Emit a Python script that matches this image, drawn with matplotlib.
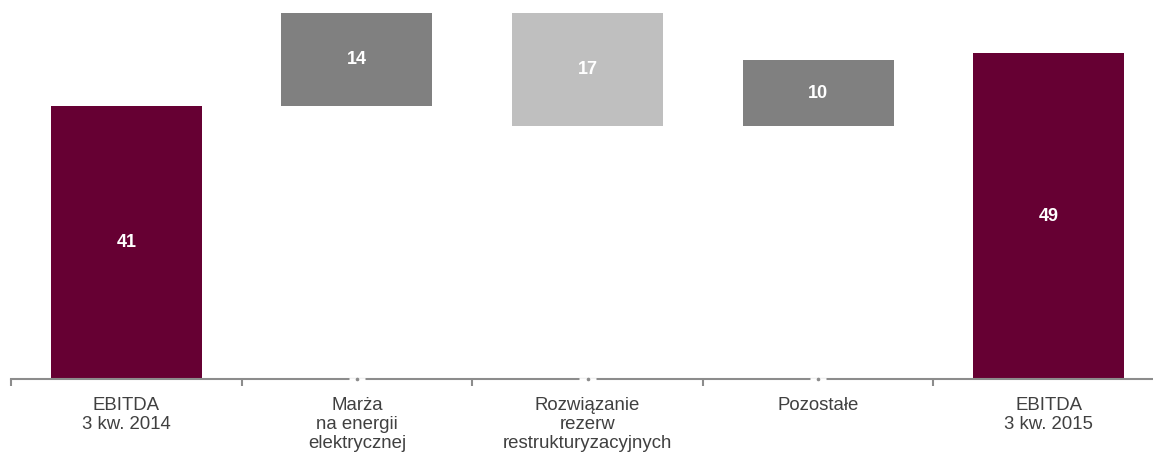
import numpy as np
import matplotlib
matplotlib.use("Agg")
import matplotlib.pyplot as plt

plt.rcParams['font.family'] = ['Liberation Sans', 'DejaVu Sans']

# mostek EBITDA (mln zł)
categories = ["EBITDA\n3 kw. 2014",
              "Marża\nna energii\nelektrycznej",
              "Rozwiązanie\nrezerw\nrestrukturyzacyjnych",
              "Pozostałe",
              "EBITDA\n3 kw. 2015"]
values = [41, 14, -17, 10, 49]
is_total = [True, False, False, False, True]

MAROON = '#660033'
DARK_GREY = '#808080'
LIGHT_GREY = '#bfbfbf'
AXIS_GREY = '#8c8c8c'
TEXT_GREY = '#404040'

fig = plt.figure(figsize=(11.53, 4.53), dpi=100)
ax = fig.add_axes([11 / 1153, 74 / 453, 1142 / 1153, 379 / 453])

x = np.arange(len(categories))
bottoms, heights, colors = [], [], []
running = 0
for v, tot in zip(values, is_total):
    if tot:
        bottoms.append(0)
        heights.append(v)
        colors.append(MAROON)
        running = v
    else:
        if v >= 0:
            bottoms.append(running)
            colors.append(DARK_GREY)
        else:
            bottoms.append(running + v)
            colors.append(LIGHT_GREY)
        heights.append(abs(v))
        running += v

bars = ax.bar(x, heights, bottom=bottoms, width=0.655, color=colors, linewidth=0)

for b, v in zip(bars, values):
    ax.text(b.get_x() + b.get_width() / 2, b.get_y() + b.get_height() / 2,
            f"{abs(v)}", ha='center', va='center', color='white',
            fontsize=13, fontweight='bold')

ax.set_xlim(-0.5, -0.5 + 1142 / 230.6)
ax.set_ylim(0, 57.0)

for s in ['top', 'right', 'left']:
    ax.spines[s].set_visible(False)
ax.spines['bottom'].set_color(AXIS_GREY)
ax.spines['bottom'].set_linewidth(1.5)
ax.set_yticks([])

ax.set_xticks(x)
ax.set_xticklabels(categories, fontsize=13.4, color=TEXT_GREY, linespacing=1.17)
ax.tick_params(axis='x', which='major', length=0, pad=13)
ax.set_xticks(np.arange(len(categories)) - 0.5, minor=True)
ax.tick_params(axis='x', which='minor', length=5, width=1.5, color=AXIS_GREY, direction='out')

# small breaks in the axis line under the change bars
for xi in x[1:4]:
    ax.plot([xi - 0.035, xi + 0.035], [0, 0], color='white', lw=2, clip_on=False, zorder=5,
            solid_capstyle='butt')
    ax.plot([xi], [0], marker='o', ms=1.6, color=AXIS_GREY, clip_on=False, zorder=6)

fig.savefig('out.png', dpi=100)
